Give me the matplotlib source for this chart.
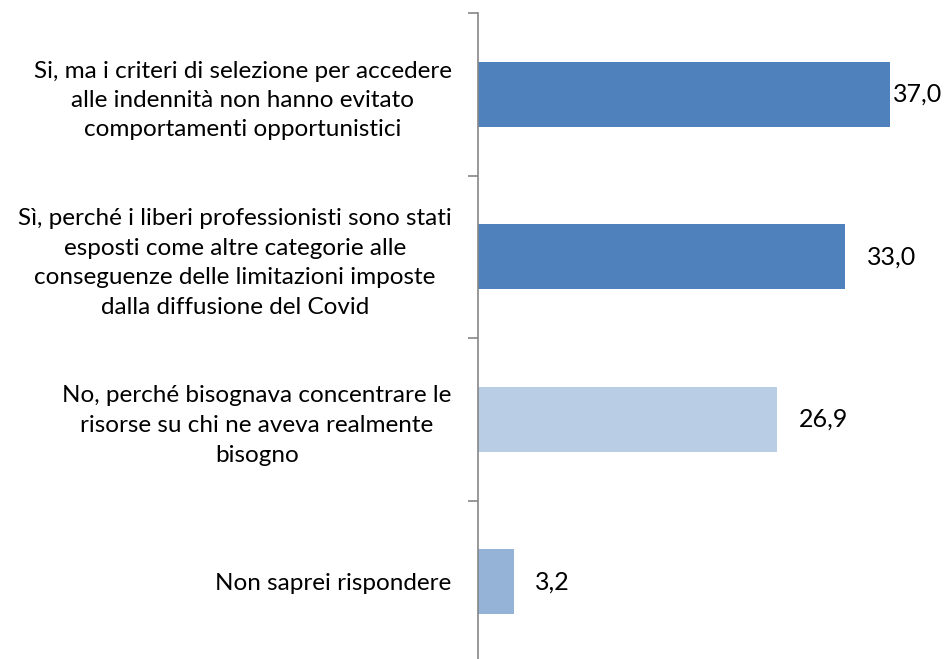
import matplotlib.pyplot as plt

categories = [
    "Si, ma i criteri di selezione per accedere\nalle indennità non hanno evitato\ncomportamenti opportunistici",
    "Sì, perché i liberi professionisti sono stati\nesposti come altre categorie alle\nconseguenze delle limitazioni imposte\ndalla diffusione del Covid",
    "No, perché bisognava concentrare le\nrisorse su chi ne aveva realmente\nbisogno",
    "Non saprei rispondere",
]
values = [37.0, 33.0, 26.9, 3.2]
colors = ["#4F81BD", "#4F81BD", "#B9CDE5", "#95B3D7"]

plt.rcParams['font.family'] = ['Lato', 'DejaVu Sans']

fig = plt.figure(figsize=(9.47, 6.59), dpi=100)
W, H = 947, 659
ax = fig.add_axes([478 / W, (H - 663) / H, 467.5 / W, 650 / H])

n = len(values)
pos = list(range(n))
ax.barh(pos, values, height=0.4, color=colors)
ax.set_ylim(n - 0.5, -0.5)
ax.set_xlim(0, 42)

for i, v in enumerate(values):
    off = 2 if i == 0 else 15.5
    ax.annotate(f"{v:.1f}".replace(".", ","), (v, i), xytext=(off, 0),
                textcoords="offset points", va="center", ha="left", fontsize=18)

for s in ["top", "right", "bottom"]:
    ax.spines[s].set_visible(False)
ax.spines["left"].set_color("#868686")
ax.spines["left"].set_linewidth(1.2)
ax.set_xticks([])

ax.set_yticks([i - 0.5 for i in range(n + 1)])
ax.set_yticklabels([])
ax.tick_params(axis="y", which="major", length=7, color="#868686", width=1.2)
ax.set_yticks(pos, minor=True)
ax.set_yticklabels(categories, minor=True, fontsize=17.5)
ax.tick_params(axis="y", which="minor", length=0, pad=19)
for t in ax.get_yticklabels(minor=True):
    t.set_multialignment("center")
    t.set_linespacing(1.5)

fig.savefig("out.png", dpi=100)
